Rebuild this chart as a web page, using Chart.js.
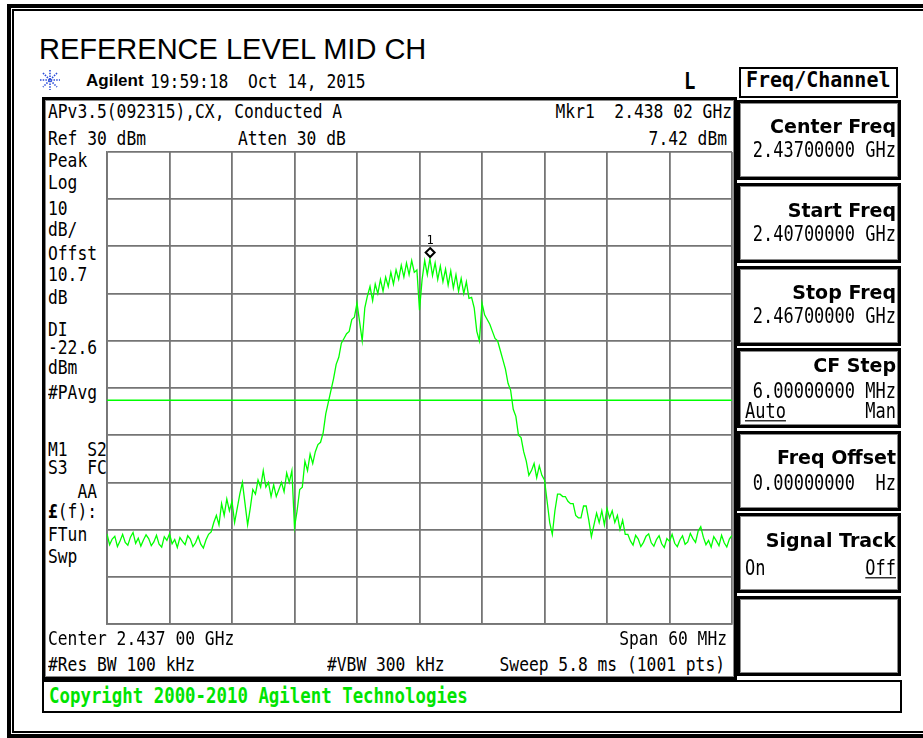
<!DOCTYPE html>
<html>
<head>
<meta charset="utf-8">
<script src="https://cdn.jsdelivr.net/npm/chart.js@4.4.1/dist/chart.umd.min.js"></script>
<style>
body { margin:0; background:#fff; width:923px; height:738px; overflow:hidden; position:relative; }
.frame { position:absolute; left:7px; top:4px; right:-20px; bottom:0; border:4px solid #000; border-right:none; }
.frame2 { position:absolute; left:1px; top:1px; right:0; bottom:1px; border:2px solid #000; border-right:none; }
.box { position:absolute; border:3px solid #000; box-sizing:border-box; box-shadow:inset 0 0 0 1px #8a8a8a; }
.t { position:absolute; white-space:pre; font-family:"DejaVu Sans Mono",monospace; font-size:16.3px; line-height:16px; color:#000; transform:scaleY(1.2); transform-origin:0 0; }
.r { transform-origin:100% 0; text-align:right; }
.sv { font-size:17px; }
.sk { position:absolute; white-space:pre; font-family:"DejaVu Sans",sans-serif; font-weight:bold; font-size:19px; line-height:19px; right:27px; text-align:right; }
.u { text-decoration:underline; text-underline-offset:2px; }
#title { position:absolute; left:39px; top:35px; font-family:"Liberation Sans",Arial,sans-serif; font-size:29px; line-height:29px; white-space:pre; }
#brand { position:absolute; left:86px; top:72px; font-family:"Liberation Sans",Arial,sans-serif; font-weight:bold; font-size:17px; line-height:17px; }
#trace { position:absolute; left:100px; top:145px; }
</style>
</head>
<body>
<div class="frame"><div class="frame2"></div></div>

<div id="title">REFERENCE LEVEL MID CH</div>
<svg style="position:absolute;left:38px;top:68px" width="24" height="24" viewBox="0 0 24 24">
  <g stroke="#2a4bd8" stroke-width="1.6" stroke-dasharray="1.5 1.2">
    <line x1="12" y1="2" x2="12" y2="22"/><line x1="2" y1="12" x2="22" y2="12"/>
    <line x1="5" y1="5" x2="19" y2="19"/><line x1="19" y1="5" x2="5" y2="19"/>
  </g>
</svg>
<div id="brand">Agilent</div>
<div class="t" style="left:150px;top:72px">19:59:18  Oct 14, 2015</div>
<div class="t" style="left:684px;top:71px;font-weight:bold;font-size:19px">L</div>

<!-- main display panel -->
<div class="box" style="left:42px;top:97px;width:695px;height:583px"></div>
<div class="t" style="left:48px;top:102px">APv3.5(092315),CX, Conducted A</div>
<div class="t r" style="right:191px;top:102px">Mkr1  2.438 02 GHz</div>
<div class="t" style="left:48px;top:129px">Ref 30 dBm</div>
<div class="t" style="left:238px;top:129px">Atten 30 dB</div>
<div class="t r" style="right:196px;top:129px">7.42 dBm</div>

<div class="t" style="left:48px;top:151px">Peak</div>
<div class="t" style="left:48px;top:173px">Log</div>
<div class="t" style="left:48px;top:199px">10</div>
<div class="t" style="left:48px;top:220px">dB/</div>
<div class="t" style="left:48px;top:244px">Offst</div>
<div class="t" style="left:48px;top:265px">10.7</div>
<div class="t" style="left:48px;top:288px">dB</div>
<div class="t" style="left:48px;top:320px">DI</div>
<div class="t" style="left:48px;top:338px">-22.6</div>
<div class="t" style="left:48px;top:358px">dBm</div>
<div class="t" style="left:48px;top:383px">#PAvg</div>
<div class="t" style="left:48px;top:440px">M1  S2</div>
<div class="t" style="left:48px;top:458px">S3  FC</div>
<div class="t" style="left:48px;top:482px">   AA</div>
<div class="t" style="left:48px;top:502px"><b>£</b>(f):</div>
<div class="t" style="left:48px;top:525px">FTun</div>
<div class="t" style="left:48px;top:547px">Swp</div>

<canvas id="trace" width="639" height="486"></canvas>

<div class="t" style="left:48px;top:629px">Center 2.437 00 GHz</div>
<div class="t r" style="right:196px;top:629px">Span 60 MHz</div>
<div class="t" style="left:48px;top:655px">#Res BW 100 kHz</div>
<div class="t" style="left:327px;top:655px">#VBW 300 kHz</div>
<div class="t r" style="right:198px;top:655px">Sweep 5.8 ms (1001 pts)</div>

<div class="box" style="left:42px;top:680px;width:860px;height:33px;border-width:2px;box-shadow:none"></div>
<div class="t" style="left:49px;top:686px;color:#00e400;font-weight:bold;font-size:17.4px">Copyright 2000-2010 Agilent Technologies</div>

<!-- softkey menu -->
<div class="box" style="left:739px;top:67px;width:159px;height:31px;border-width:2px;box-shadow:none"></div>
<div class="t" style="left:746px;top:70px;font-weight:bold;font-size:20px;transform:scaleY(1.1)">Freq/Channel</div>

<div class="box" style="left:737px;top:100px;width:164px;height:80px"></div>
<div class="sk" style="top:117px">Center Freq</div>
<div class="t r sv" style="right:27px;top:140px">2.43700000 GHz</div>

<div class="box" style="left:737px;top:183px;width:164px;height:80px"></div>
<div class="sk" style="top:201px">Start Freq</div>
<div class="t r sv" style="right:27px;top:224px">2.40700000 GHz</div>

<div class="box" style="left:737px;top:266px;width:164px;height:80px"></div>
<div class="sk" style="top:283px">Stop Freq</div>
<div class="t r sv" style="right:27px;top:306px">2.46700000 GHz</div>

<div class="box" style="left:737px;top:348px;width:164px;height:80px"></div>
<div class="sk" style="top:356px">CF Step</div>
<div class="t r sv" style="right:27px;top:381px">6.00000000 MHz</div>
<div class="t sv u" style="left:745px;top:401px">Auto</div>
<div class="t r sv" style="right:27px;top:401px">Man</div>

<div class="box" style="left:737px;top:431px;width:164px;height:80px"></div>
<div class="sk" style="top:448px">Freq Offset</div>
<div class="t r sv" style="right:27px;top:473px">0.00000000  Hz</div>

<div class="box" style="left:737px;top:513px;width:164px;height:80px"></div>
<div class="sk" style="top:531px">Signal Track</div>
<div class="t sv" style="left:745px;top:558px">On</div>
<div class="t r sv u" style="right:27px;top:558px">Off</div>

<div class="box" style="left:737px;top:596px;width:164px;height:80px"></div>

<script>
// sweep settings (MHz)
const startFreq = 2407;
const stopFreq = 2467;
const pointStep = 0.25;

// trace levels in dBm, 10 MHz per segment
const trace0to10 = [
    -50.9, -53.2, -52.0, -51.4, -53.6, -52.4, -51.0, -52.7, -53.3, -51.6,
    -50.6, -52.9, -51.8, -53.5, -52.2, -51.1, -51.9, -53.4, -52.6, -51.2,
    -53.1, -53.7, -51.5, -52.3, -50.9, -53.0, -52.1, -53.8, -51.7, -52.5,
    -53.2, -51.3, -52.0, -53.6, -52.8, -51.4, -53.1, -53.9, -52.2, -51.0
];
const trace10to20 = [
    -50.5, -48.5, -47.0, -49.0, -44.5, -47.0, -43.5, -46.0, -44.0, -48.5,
    -45.5, -42.5, -40.0, -44.5, -49.0, -45.5, -41.5, -42.5, -39.5, -41.0,
    -37.5, -41.0, -40.0, -43.0, -40.5, -43.0, -41.5, -40.0, -42.0, -38.0,
    -40.0, -37.5, -49.5, -46.0, -41.5, -41.0, -35.5, -37.5, -34.0, -36.0
];
const trace20to30 = [
    -33.5, -32.0, -31.5, -29.5, -25.5, -23.0, -20.5, -18.0, -15.0, -13.5,
    -10.5, -9.5, -8.5, -8.0, -5.5, -5.0, -2.0, -6.0, -10.0, -3.0,
    -0.5, 1.5, -1.5, 2.0, 0.0, 3.0, 0.5, 3.5, 1.5, 4.5,
    2.0, 5.0, 3.0, 6.0, 3.5, 6.5, 4.0, 7.0, 4.5, 5.0
];
const trace30to40 = [
    -3.5, 3.0, 7.0, 4.0, 7.42, 3.8, 6.5, 3.0, 5.8, 2.5,
    5.2, 1.8, 4.8, 1.2, 4.0, 0.5, 3.2, 0.0, 2.5, -1.0,
    -0.8, -3.0, -8.0, -10.0, -2.0, -4.5, -5.5, -6.5, -8.0, -9.5,
    -10.0, -12.0, -14.0, -16.0, -19.0, -20.5, -24.5, -26.0, -30.0, -30.5
];
const trace40to50 = [
    -33.5, -35.5, -38.5, -37.5, -36.0, -39.0, -36.5, -38.5, -39.5, -44.0,
    -48.5, -51.0, -46.0, -42.5, -42.5, -43.0, -43.0, -44.0, -44.5, -44.5,
    -47.0, -47.5, -47.5, -45.0, -45.0, -48.0, -51.5, -49.0, -46.5, -48.5,
    -46.0, -49.0, -45.5, -47.5, -46.0, -48.5, -47.0, -50.0, -48.0, -51.0
];
const trace50to60 = [
    -51.0, -52.4, -53.3, -51.2, -52.0, -53.6, -52.7, -51.4, -50.9, -52.8,
    -53.5, -52.1, -51.3, -53.0, -53.8, -51.9, -52.5, -51.0, -52.9, -53.6,
    -52.2, -51.3, -53.1, -52.6, -50.8, -51.9, -52.7, -50.3, -49.4, -51.6,
    -53.2, -52.3, -53.7, -51.5, -52.4, -53.4, -51.2, -52.8, -53.7, -52.0,
    -51.2
];

// graticule
const freqGrid = [2407, 2413, 2419, 2425, 2431, 2437, 2443, 2449, 2455, 2461, 2467];
const levelGrid = [-70, -60, -50, -40, -30, -20, -10, 0, 10, 20, 30];

// marker 1 and display line
const markerFreq = 2438.02;
const markerLevel = 7.42;
const displayLine = -22.6;

const levels = [].concat(trace0to10, trace10to20, trace20to30, trace30to40, trace40to50, trace50to60);
const tracePoints = levels.map((v, i) => ({ x: startFreq + i * pointStep, y: v }));

// diamond marker sits just above the trace point
const markerPlugin = {
    id: 'mkr',
    afterDatasetsDraw(chart) {
        const c = chart.ctx;
        const px = chart.scales.x.getPixelForValue(markerFreq);
        const py = chart.scales.y.getPixelForValue(markerLevel) - 6;
        c.save();
        c.beginPath();
        c.moveTo(px, py - 4.5); c.lineTo(px + 4.5, py); c.lineTo(px, py + 4.5); c.lineTo(px - 4.5, py);
        c.closePath();
        c.fillStyle = '#fff'; c.fill();
        c.lineWidth = 2; c.strokeStyle = '#000'; c.stroke();
        c.fillStyle = '#000';
        c.font = '12px "DejaVu Sans Mono"';
        c.textAlign = 'center'; c.textBaseline = 'bottom';
        c.fillText('1', px, py - 6);
        c.restore();
    }
};

const gridStyle = { color: '#757575', lineWidth: 1.8, drawTicks: false };
const noSize = s => { s.width = s.isHorizontal() ? s.width : 0; s.height = s.isHorizontal() ? 0 : s.height; };

new Chart(document.getElementById('trace').getContext('2d'), {
    type: 'line',
    data: {
        datasets: [
            { data: tracePoints, borderColor: '#00ff00', borderWidth: 1.3, pointRadius: 0, tension: 0 },
            { data: [{ x: startFreq, y: displayLine }, { x: stopFreq, y: displayLine }],
              borderColor: '#00ff00', borderWidth: 1.5, pointRadius: 0 }
        ]
    },
    options: {
        responsive: false, animation: false,
        layout: { padding: 7 },
        plugins: { legend: { display: false }, tooltip: { enabled: false } },
        scales: {
            x: {
                type: 'linear', min: startFreq, max: stopFreq,
                ticks: { display: false },
                afterBuildTicks: a => { a.ticks = freqGrid.map(v => ({ value: v })); },
                afterFit: noSize,
                grid: gridStyle, border: { color: '#757575', width: 1.8 }
            },
            y: {
                min: -70, max: 30,
                ticks: { display: false },
                afterBuildTicks: a => { a.ticks = levelGrid.map(v => ({ value: v })); },
                afterFit: noSize,
                grid: gridStyle, border: { color: '#757575', width: 1.8 }
            }
        }
    },
    plugins: [markerPlugin]
});
</script>
</body>
</html>
